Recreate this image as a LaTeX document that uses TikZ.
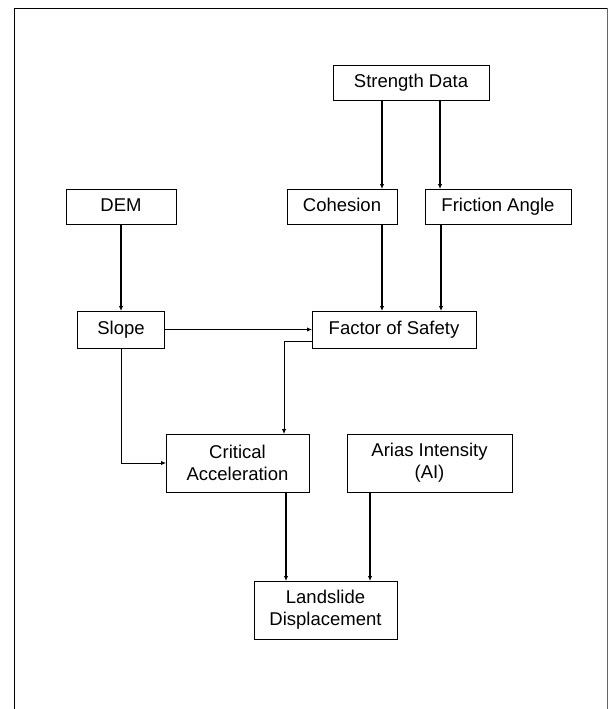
\documentclass[tikz,border=0pt]{standalone}
\usepackage{fontspec}
\setmainfont{Liberation Sans}
\usetikzlibrary{positioning, arrows.meta}
\tikzset{
    box/.style={rectangle, draw=black, line width=0.8pt, inner sep=0pt, outer sep=0pt, align=center},
    block/.style={box, minimum height=35pt, text height=13.5pt, text depth=4.5pt},
    tallblock/.style={box, minimum height=58pt},
    arrow/.style={-{Latex[length=5pt,width=4.5pt]}, line width=1.3pt},
    thinarrow/.style={arrow, line width=0.9pt}
}

\begin{document}
\begin{tikzpicture}[x=1pt, y=-1pt, every node/.style={font=\fontsize{18.5}{22}\selectfont}]
\useasboundingbox (0,0) rectangle (608,709);

% Outer frame
\draw[line width=0.9pt] (14,709) -- (14,8) -- (607,8);
\draw[line width=0.7pt, black!60] (607,8) -- (607,709);

% Inputs
\node (strength) [block, minimum width=156pt] at (411,82.5) {Strength Data};
\node (dem) [block, minimum width=110pt] at (121,206.5) {DEM};
\node (cohesion) [block, minimum width=110pt] at (342,206.5) {Cohesion};
\node (friction) [block, minimum width=146pt, right=28pt of cohesion] {Friction Angle};

% Middle row
\node (slope) [block, minimum width=87pt, minimum height=37pt, below=87pt of dem] {Slope};
\node (fos) [block, minimum width=164pt, minimum height=37pt] at (394,329.5) {Factor of Safety};

% Lower rows
\node (crit) [tallblock, minimum width=143pt] at (237.5,463) {Critical\\Acceleration};
\node (arias) [tallblock, minimum width=165pt, right=38pt of crit] {Arias Intensity\\(AI)};
\node (land) [tallblock, minimum width=143pt] at (325.5,610) {Landslide\\Displacement};

% Arrows between blocks
\draw[arrow] ([xshift=-29pt]strength.south) -- ([xshift=-29pt]strength.south |- cohesion.north);
\draw[arrow] ([xshift=29pt]strength.south) -- ([xshift=29pt]strength.south |- friction.north);
\draw[arrow] ([xshift=40pt]cohesion.south) -- ([xshift=40pt]cohesion.south |- fos.north);
\draw[arrow] ([xshift=-57pt]friction.south) -- ([xshift=-57pt]friction.south |- fos.north);
\draw[arrow] (dem.south) -- (slope.north);
\draw[arrow, line width=1.8pt] (slope.east) -- (fos.west);
\draw[thinarrow] ([yshift=-11.5pt]fos.west) -| ([xshift=46.5pt]crit.north);
\draw[thinarrow] (slope.south) |- (crit.west);
\draw[arrow] ([xshift=48.5pt]crit.south) -- ([xshift=48.5pt]crit.south |- land.north);
\draw[arrow] ([xshift=-59.5pt]arias.south) -- ([xshift=-59.5pt]arias.south |- land.north);

\end{tikzpicture}
\end{document}
